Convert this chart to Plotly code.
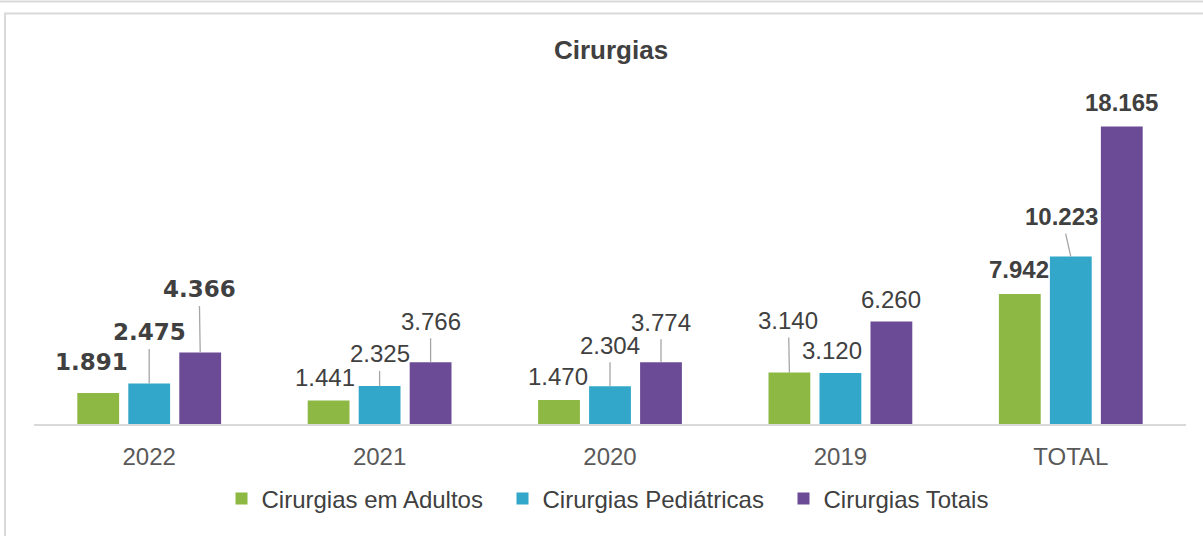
import plotly.graph_objects as go

# data
categories = ["2022", "2021", "2020", "2019", "TOTAL"]
adultos = [1891, 1441, 1470, 3140, 7942]
pediatricas = [2475, 2325, 2304, 3120, 10223]
totais = [4366, 3766, 3774, 6260, 18165]
value_text = {
    "adultos": ["1.891", "1.441", "1.470", "3.140", "7.942"],
    "pediatricas": ["2.475", "2.325", "2.304", "3.120", "10.223"],
    "totais": ["4.366", "3.766", "3.774", "6.260", "18.165"],
}
series_names = ["Cirurgias em Adultos", "Cirurgias Pediátricas", "Cirurgias Totais"]
colors = ["#8DB843", "#32A7C9", "#6C4B96"]

# label offsets (px, from the top centre of each bar) and whether a leader line is drawn
label_pos = {
    "adultos": [(-7, -31, False), (-4, -23, False), (-1, -23, False), (-1, -52, True), (-1, -24, False)],
    "pediatricas": [(0, -51, True), (0, -32, True), (0, -41, True), (-8, -22, False), (-9, -40, True)],
    "totais": [(-1, -63, True), (0, -41, True), (0, -40, True), (0, -22, False), (0, -24, False)],
}

W, H = 1203, 536
L, R, T, B = 34, 17, 80, 112
TEXT = "#404040"
ARIAL = "Liberation Sans, Arial, sans-serif"


def px_x(px):
    return (px - L) / (W - L - R)


def px_y(py):
    return (H - B - py) / (H - T - B)


fig = go.Figure()
for name, vals, col in zip(series_names, [adultos, pediatricas, totais], colors):
    fig.add_trace(go.Bar(x=categories, y=vals, name=name, marker=dict(color=col, line=dict(width=0)), hoverinfo="skip"))

annotations = []
offsets = [-51, 0, 51]
for key, vals, xs in zip(["adultos", "pediatricas", "totais"], [adultos, pediatricas, totais], offsets):
    for i, cat in enumerate(categories):
        dx, dy, line = label_pos[key][i]
        if cat == "2022":
            font = dict(family="DejaVu Sans, sans-serif", size=23, color=TEXT, weight="bold")
        elif cat == "TOTAL":
            font = dict(family=ARIAL, size=24, color=TEXT, weight="bold")
        else:
            font = dict(family=ARIAL, size=24, color=TEXT)
        # category index as x so numeric-looking names are not read as coordinates
        annotations.append(dict(
            x=i, y=vals[i], xref="x", yref="y", text=value_text[key][i], font=font,
            showarrow=True, ax=dx, ay=dy, xshift=xs, arrowhead=0, standoff=0, borderpad=3,
            arrowwidth=1.3, arrowcolor="#A6A6A6" if line else "rgba(0,0,0,0)",
        ))

annotations.append(dict(
    x=px_x(611), y=px_y(50), xref="paper", yref="paper", text="<b>Cirurgias</b>", showarrow=False,
    font=dict(family=ARIAL, size=26, color=TEXT), xanchor="center", yanchor="middle",
))

shapes = [
    dict(type="line", xref="paper", yref="paper", x0=px_x(0), x1=px_x(W), y0=px_y(1.5), y1=px_y(1.5),
         line=dict(color="#D9D9D9", width=2)),
    dict(type="rect", xref="paper", yref="paper", x0=px_x(5), x1=px_x(W + 20), y0=px_y(13.5), y1=px_y(H + 20),
         line=dict(color="#D9D9D9", width=2), fillcolor="rgba(0,0,0,0)"),
]

fig.update_layout(
    width=W, height=H,
    margin=dict(l=L, r=R, t=T, b=B),
    paper_bgcolor="white", plot_bgcolor="white",
    barmode="group", bargap=0.336, bargroupgap=0.18,
    font=dict(family=ARIAL, size=24, color=TEXT),
    showlegend=True,
    # kept inside the bottom margin so the legend does not push the plot area up
    legend=dict(orientation="h", x=px_x(643), y=px_y(499), xanchor="center", yanchor="middle",
                font=dict(family=ARIAL, size=24, color=TEXT), itemwidth=30,
                entrywidth=236, entrywidthmode="pixels", bgcolor="rgba(0,0,0,0)"),
    annotations=annotations,
    shapes=shapes,
)
fig.update_xaxes(type="category", range=[-0.5, len(categories) - 0.5], showline=True, linecolor="#D9D9D9",
                 linewidth=2, showgrid=False, ticks="",
                 tickfont=dict(family=ARIAL, size=24, color="#595959"), ticklabelstandoff=10)
fig.update_yaxes(range=[0, 21000], visible=False, showgrid=False, zeroline=False)

# the page body has a default 8px margin; drop it so the figure fills the window
fig.write_html("out.html", config={"displayModeBar": False},
               post_script="document.body.style.margin='0';")
